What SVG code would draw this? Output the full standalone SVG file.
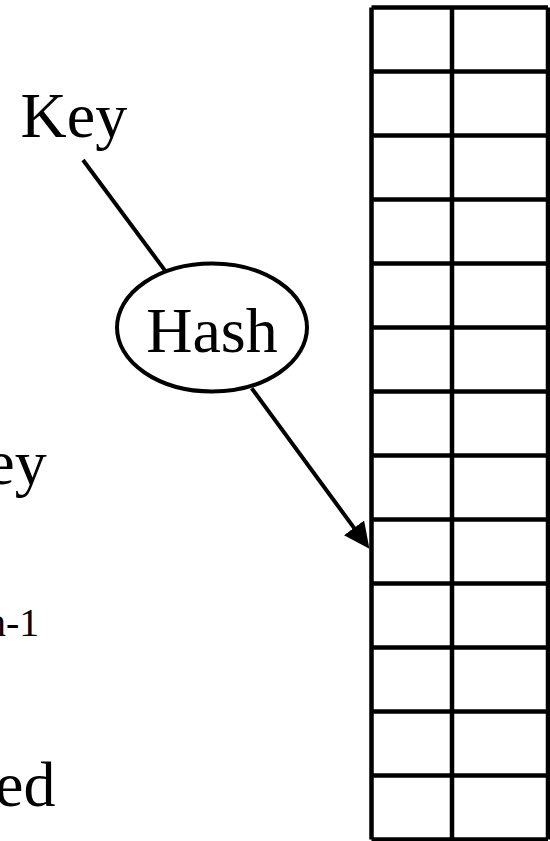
<svg xmlns="http://www.w3.org/2000/svg" width="550" height="841" viewBox="0 0 550 841">
<style>
.t{font-family:"Liberation Serif","Times New Roman",serif;fill:#000}
.big{font-size:64px}
.sm{font-size:40px}
.g{stroke:#000;stroke-width:4.5;fill:none}
.c{stroke:#000;stroke-width:4;fill:none}
</style>
<defs>
<marker id="ah" markerUnits="userSpaceOnUse" markerWidth="26" markerHeight="25" refX="4" refY="12.5" orient="auto">
<path d="M0,0 L26,12.5 L0,25 z" fill="#000"/>
</marker>
</defs>
<rect width="550" height="841" fill="#fff"/>
<g id="table">
<path class="g" d="M371.5,7.5 V839.5 M452,7.5 V839.5 M548,7.5 V839.5"/>
<path class="g" d="M371.5,7.5 H548 M371.5,71.5 H548 M371.5,135.5 H548 M371.5,199.5 H548 M371.5,263.5 H548 M371.5,327.5 H548 M371.5,391.5 H548 M371.5,455.5 H548 M371.5,519.5 H548 M371.5,583.5 H548 M371.5,647.5 H548 M371.5,711.5 H548 M371.5,775.5 H548 M371.5,839.5 H548"/>
</g>
<g id="key">
<text class="t big" x="20.5" y="137">Key</text>
</g>
<g id="hash">
<ellipse class="c" cx="212" cy="327.5" rx="95" ry="64"/>
<text class="t big" x="212" y="352" text-anchor="middle">Hash</text>
</g>
<g id="left-labels">
<text class="t big" x="-13.7" y="484">ey</text>
<text class="t sm" x="-14" y="636">n-1</text>
<text class="t big" x="-5" y="806">ed</text>
</g>
<g id="connectors">
<line class="c" x1="83" y1="160" x2="165.8" y2="271.6"/>
<line class="c" x1="251.7" y1="388.3" x2="356.4" y2="531.1" marker-end="url(#ah)"/>
</g>
</svg>
